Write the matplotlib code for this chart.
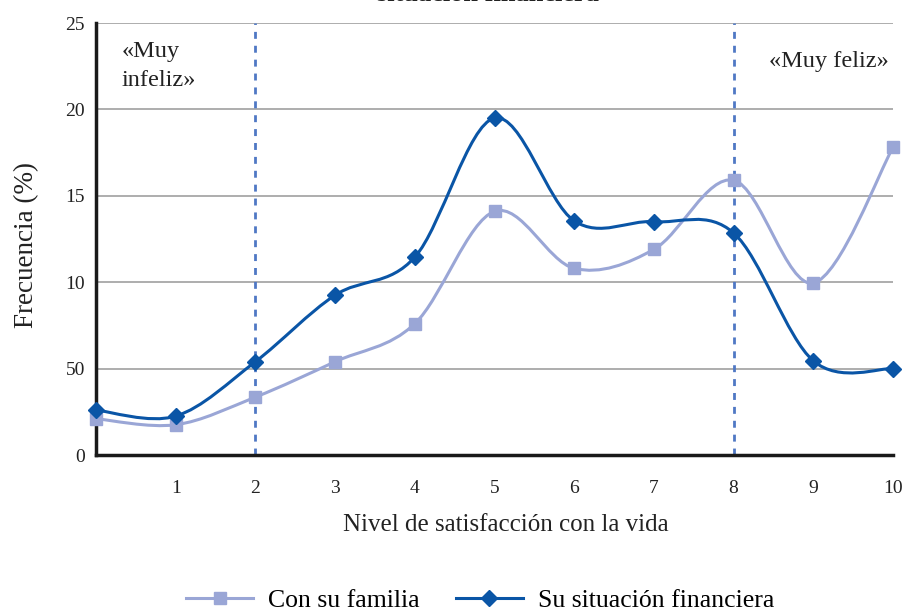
import matplotlib
matplotlib.use("Agg")
import matplotlib.pyplot as plt
import numpy as np
from matplotlib.path import Path
from matplotlib.patches import PathPatch

plt.rcParams['font.family'] = ['Liberation Serif', 'DejaVu Serif']

# data
niveles = [0, 1, 2, 3, 4, 5, 6, 7, 8, 9, 10]
familia = [2.1, 1.75, 3.35, 5.4, 7.6, 14.1, 10.8, 11.9, 15.9, 9.95, 17.8]
financiera = [2.6, 2.25, 5.4, 9.25, 11.45, 19.5, 13.55, 13.5, 12.85, 5.45, 5.0]
y_ticks = [0, 5, 10, 15, 20, 25]
y_labels = ['0', '50', '10', '15', '20', '25']
x_ticks = [1, 2, 3, 4, 5, 6, 7, 8, 9, 10]

col_fam = '#9aa6d6'
col_fin = '#0a55a6'


def smooth_path(x, y):
    # Excel-like smoothed line: cubic bezier through the points
    x = np.asarray(x, float)
    y = np.asarray(y, float)
    n = len(x)
    verts = [(x[0], y[0])]
    codes = [Path.MOVETO]
    for i in range(n - 1):
        i0 = max(i - 1, 0)
        i3 = min(i + 2, n - 1)
        c1 = (x[i] + (x[i + 1] - x[i0]) / 6, y[i] + (y[i + 1] - y[i0]) / 6)
        c2 = (x[i + 1] - (x[i3] - x[i]) / 6, y[i + 1] - (y[i3] - y[i]) / 6)
        verts += [c1, c2, (x[i + 1], y[i + 1])]
        codes += [Path.CURVE4] * 3
    return Path(verts, codes)


fig = plt.figure(figsize=(9.03, 6.10), dpi=100)
ax = fig.add_axes([96 / 903, 155 / 610, 797 / 903, 432 / 610])

for yt in y_ticks[1:]:
    ax.axhline(yt, color='#a0a0a0', lw=1.2, zorder=1)

for xv in [2, 8]:
    ax.axvline(xv, color='#4f78c4', lw=2, ls=(0, (2.5, 2.5)), zorder=1)

ax.add_patch(PathPatch(smooth_path(niveles, familia), fill=False,
                       edgecolor=col_fam, lw=2.2, zorder=3))
ax.add_patch(PathPatch(smooth_path(niveles, financiera), fill=False,
                       edgecolor=col_fin, lw=2.2, zorder=4))
ax.plot(niveles, familia, ls='none', marker='s', ms=8, color=col_fam,
        zorder=5, clip_on=False)
ax.plot(niveles, financiera, ls='none', marker='D', ms=8, color=col_fin,
        zorder=6, clip_on=False)

ax.set_xlim(0, 10)
ax.set_ylim(0, 25)
ax.set_xticks(x_ticks)
ax.set_xticklabels([str(v) for v in x_ticks], fontsize=14)
ax.set_yticks(y_ticks)
ax.set_yticklabels(y_labels, fontsize=14)
ax.tick_params(axis='both', length=0, colors='#222222')
ax.tick_params(axis='x', pad=18)
ax.tick_params(axis='y', pad=8)

for s in ['top', 'right']:
    ax.spines[s].set_visible(False)
for s in ['left', 'bottom']:
    ax.spines[s].set_linewidth(2.5)
    ax.spines[s].set_color('#1a1a1a')

ax.set_xlabel('Nivel de satisfacción con la vida', fontsize=18, labelpad=12,
              color='#222222', x=0.514, ha='center')
ax.set_ylabel('Frecuencia (%)', fontsize=19.5, labelpad=19, color='#222222',
              y=0.485, ha='center')

ax.text(0.32, 22.5, '«Muy\ninfeliz»', fontsize=17.5, va='center', ha='left',
        color='#222222', linespacing=1.5)
ax.text(9.95, 22.8, '«Muy feliz»', fontsize=17.5, va='center', ha='right',
        color='#222222')

fig.text(0.54, 0.999, 'situación financiera', fontsize=19, fontweight='bold',
         ha='center', va='baseline', color='#222222')

h1, = ax.plot([], [], color=col_fam, lw=2.2, marker='s', ms=8)
h2, = ax.plot([], [], color=col_fin, lw=2.2, marker='D', ms=8)
fig.legend([h1, h2], ['Con su familia', 'Su situación financiera'],
           loc='center', bbox_to_anchor=(0.532, 0.016), ncol=2, frameon=False,
           fontsize=18.5, handlelength=2.6, handletextpad=0.6,
           columnspacing=1.4)

fig.savefig('out.png', dpi=100)
